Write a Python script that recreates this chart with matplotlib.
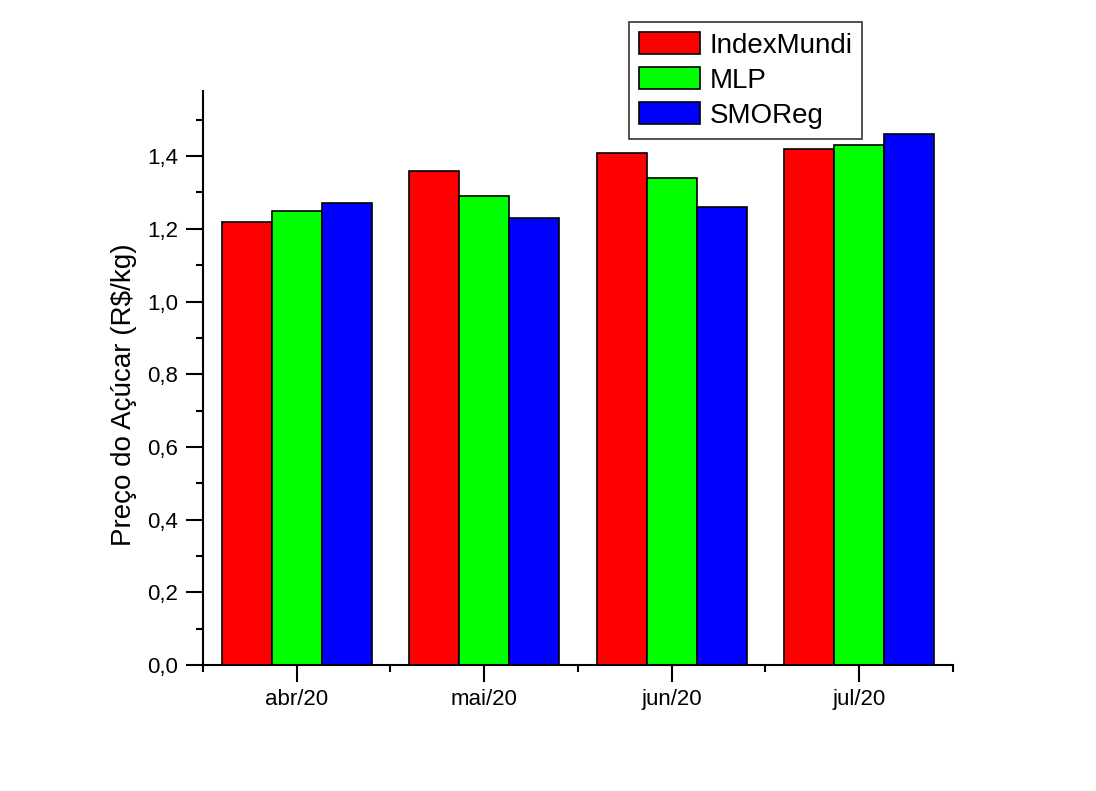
import matplotlib.pyplot as plt
import numpy as np
from matplotlib.ticker import MultipleLocator, FuncFormatter

plt.rcParams['font.family'] = ['Liberation Sans', 'DejaVu Sans']

# Dados
meses = ['abr/20', 'mai/20', 'jun/20', 'jul/20']
index_mundi = [1.22, 1.36, 1.41, 1.42]
mlp = [1.25, 1.29, 1.34, 1.43]
smoreg = [1.27, 1.23, 1.26, 1.46]

series = [('IndexMundi', index_mundi, '#FF0000'),
          ('MLP', mlp, '#00FF00'),
          ('SMOReg', smoreg, '#0000FF')]

fig = plt.figure(figsize=(10.96, 7.91), dpi=100)
ax = fig.add_axes([0.1852, 0.1593, 0.6843, 0.7260])

x = np.arange(1, len(meses) + 1)
w = 0.8 / 3
for i, (nome, vals, cor) in enumerate(series):
    ax.bar(x + (i - 1) * w, vals, width=w, color=cor, edgecolor='black',
           linewidth=1.2, label=nome)

ax.set_xlim(0.5, 4.5)
ax.set_ylim(0, 1.58)
ax.set_xticks(x)
ax.set_xticklabels(meses)
ax.xaxis.set_minor_locator(MultipleLocator(1.0, offset=0.5))
ax.yaxis.set_major_locator(MultipleLocator(0.2))
ax.yaxis.set_minor_locator(MultipleLocator(0.1))
ax.yaxis.set_major_formatter(FuncFormatter(lambda v, p: f'{v:.1f}'.replace('.', ',')))

ax.spines['top'].set_visible(False)
ax.spines['right'].set_visible(False)
ax.spines['left'].set_linewidth(1.5)
ax.spines['bottom'].set_linewidth(1.5)
ax.tick_params(which='major', direction='out', length=12, width=1.5, labelsize=16)
ax.tick_params(which='minor', direction='out', length=5, width=1.5)
ax.tick_params(axis='y', which='major', pad=6)
ax.tick_params(axis='x', which='major', pad=5)

ax.set_ylabel('Preço do Açúcar (R$/kg)', fontsize=20)
ax.yaxis.set_label_coords(-0.088, 0.47)

leg = ax.legend(loc='upper left', bbox_to_anchor=(0.574, 0.972),
                bbox_transform=fig.transFigure, borderaxespad=0,
                fontsize=20, fancybox=False, frameon=True, edgecolor='black',
                handlelength=2.2, handleheight=0.86, handletextpad=0.35,
                labelspacing=0.3, borderpad=0.35)
leg.get_frame().set_linewidth(1.2)

plt.savefig('out.png', dpi=100)
